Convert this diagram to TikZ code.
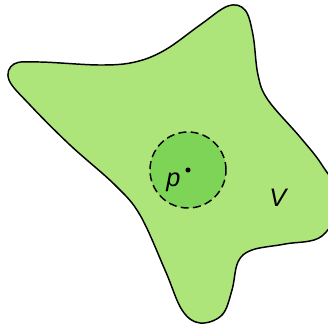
\documentclass[tikz,border=0pt]{standalone}
\usepackage{fontspec}
\setmainfont{Liberation Sans}
\usetikzlibrary{positioning}
\definecolor{regiongreen}{RGB}{173,229,122}
\definecolor{ballgreen}{RGB}{125,212,86}
\begin{document}
\begin{tikzpicture}[
  x=0.75pt, y=-0.75pt,
  font=\fontsize{19}{22}\selectfont\itshape,
  region/.style={draw=black, fill=regiongreen, line width=1.1pt},
  ball/.style={circle, draw=black, fill=ballgreen, line width=1.1pt, dash pattern=on 6pt off 3.2pt, minimum size=76*0.75pt, inner sep=0pt},
  pt/.style={circle, fill=black, inner sep=0pt, minimum size=3.8pt},
  lbl/.style={anchor=base west, inner sep=0pt}
]
\useasboundingbox (0,0) rectangle (328,326);
% the region V, cut at the right edge
\begin{scope}
  \clip (0,0) rectangle (328,326);
  \draw[region] plot[smooth cycle, tension=0.6] coordinates {
    (14,64) (40,62) (100,65) (135,62) (165,50) (200,25) (228,6) (245,10)
    (253,35) (258,75) (268,100) (300,137) (322,165) (340,200) (322,236)
    (285,244) (252,250) (238,262) (232,290) (222,315) (200,323) (182,310)
    (165,270) (140,215) (115,185) (70,145) (30,105) (9,80)};
\end{scope}
% ball round p
\node[ball] (b) at (188,170) {};
\node[pt] (p) at (188,170) {};
\node[lbl] (plbl) at (166,186) {p};
\node[lbl] (vlbl) at (269,206) {V};
\end{tikzpicture}
\end{document}
